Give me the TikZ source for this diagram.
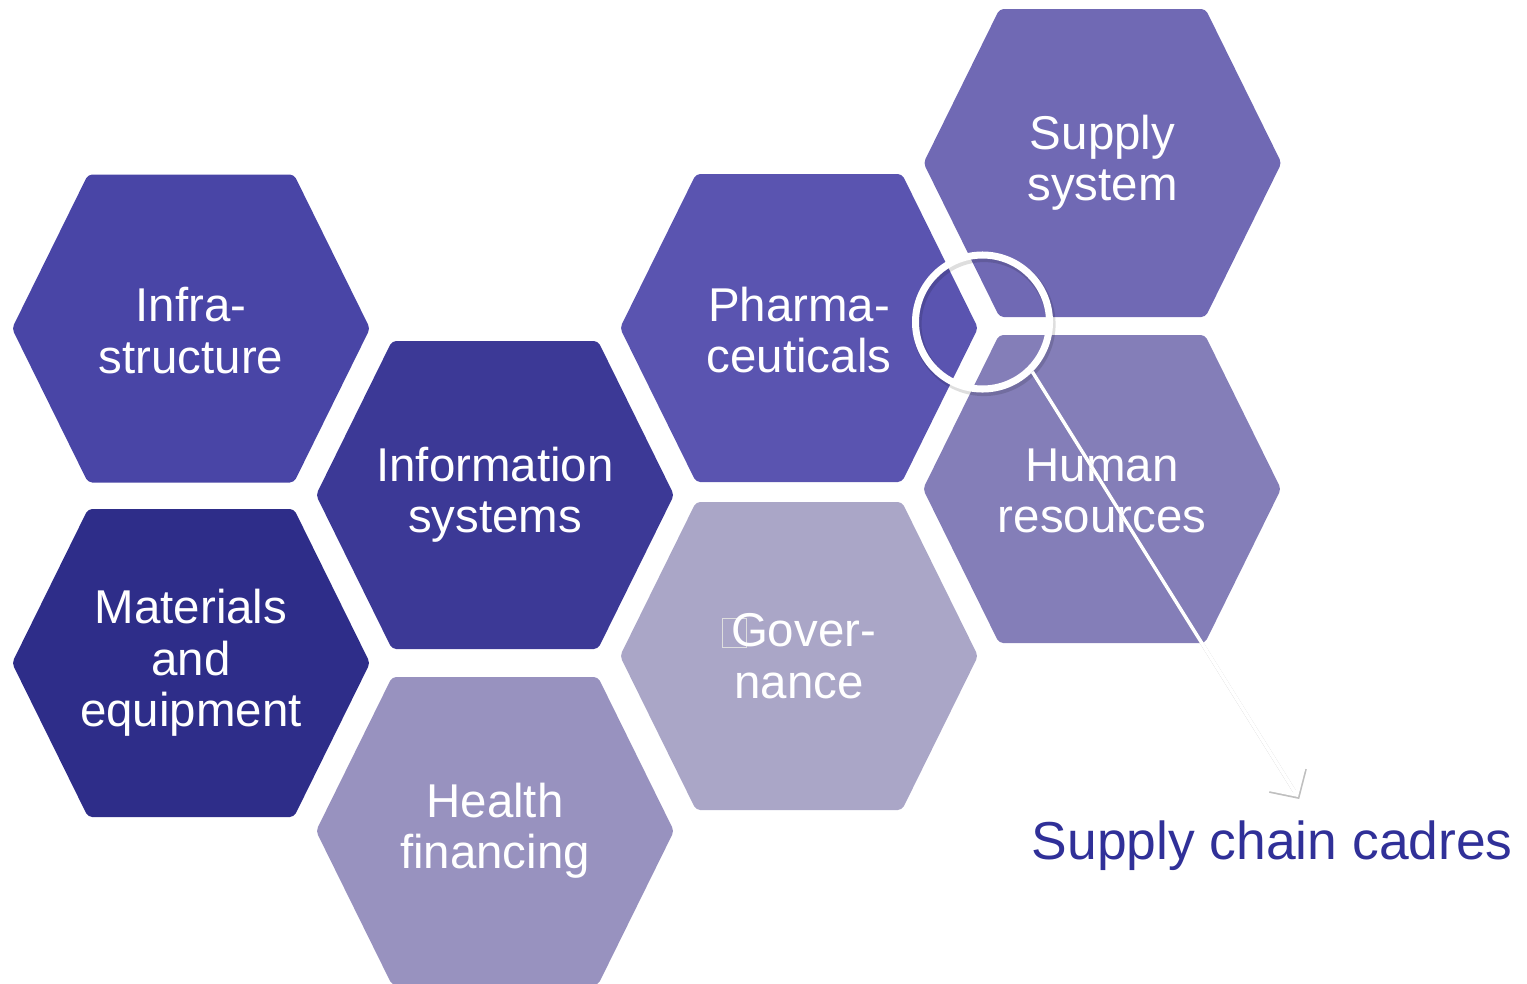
\documentclass[tikz,border=0pt]{standalone}
\usepackage{fontspec}
\setmainfont{Liberation Sans}
\usetikzlibrary{calc,arrows.meta}

\definecolor{infracol}{RGB}{73,69,166}
\definecolor{matcol}{RGB}{46,45,137}
\definecolor{infocol}{RGB}{60,57,150}
\definecolor{healthcol}{RGB}{152,146,191}
\definecolor{pharmacol}{RGB}{90,84,176}
\definecolor{govcol}{RGB}{170,166,199}
\definecolor{supplycol}{RGB}{112,105,180}
\definecolor{humancol}{RGB}{132,126,184}
\definecolor{cadrecol}{RGB}{48,48,152}

% glyph manquant devant "Gover-"
\newcommand{\tofu}{\makebox[0.09cm][l]{\color{black!13}\setlength{\fboxsep}{0pt}\setlength{\fboxrule}{0.3pt}\fbox{\rule{0pt}{0.28cm}\hspace{0.23cm}}}}

\begin{document}
\begin{tikzpicture}[
    hexa/.style={fill=#1, rounded corners=1.2pt},
    hexlabel/.style={text=white, align=center, font=\fontsize{13.5}{14.6}\selectfont},
    lens/.style={circle, draw=white, line width=2pt, minimum size=1.34cm, inner sep=0pt},
    pointer/.style={white, line width=1pt, -{Straight Barb[length=0.2cm, width=0.42cm]}}
  ]
          \useasboundingbox (0,0) rectangle (15.27,9.83);
          %\draw[help lines] (0,0) grid (15,9);
          % centres des hexagones
          \coordinate (infra) at (1.91,6.545);
          \coordinate (mat) at (1.91,3.20);
          \coordinate (info) at (4.95,4.88);
          \coordinate (health) at (4.95,1.52);
          \coordinate (pharma) at (7.99,6.55);
          \coordinate (gov) at (7.99,3.27);
          \coordinate (supply) at (11.025,8.20);
          \coordinate (human) at (11.02,4.94);
          \foreach \c/\col in {infra/infracol,mat/matcol,info/infocol,health/healthcol,
                               pharma/pharmacol,gov/govcol,supply/supplycol,human/humancol}
            \fill[hexa=\col] (\c) ++(-1.79,0) -- ++(0.76,1.54) -- ++(2.06,0)
                 -- ++(0.76,-1.54) -- ++(-0.76,-1.54) -- ++(-2.06,0) -- cycle;
          \node[hexlabel] (infra-t) at ([yshift=-0.02cm]infra) {Infra-\\structure};
          \node[hexlabel] (mat-t) at (mat) {Materials\\and\\equipment};
          \node[hexlabel] (info-t) at (info) {Information\\systems};
          \node[hexlabel] (health-t) at (health) {Health\\financing};
          \node[hexlabel] (pharma-t) at ([yshift=-0.02cm]pharma) {Pharma-\\ceuticals};
          \node[hexlabel] (gov-t) at (gov) {\tofu Gover-\\nance};
          \node[hexlabel] (supply-t) at (supply) {Supply\\system};
          \node[hexlabel] (human-t) at ([yshift=-0.02cm]human) {Human\\resources};
          % loupe
          \coordinate (loupe) at (9.825,6.61);
          \draw[black, opacity=0.13, line width=2.6pt] ([shift={(0.015,-0.025)}]loupe) circle (0.67);
          \node[lens] (lens) at (loupe) {};
          \coordinate (tip) at (12.98,1.86);
          \draw[pointer, draw=black, opacity=0.25, transform canvas={shift={(0.012,-0.02)}}] (lens.-45) -- (tip);
          \draw[pointer] (lens.-45) -- (tip);
          \node[anchor=base west, inner sep=0pt, text=cadrecol, font=\fontsize{15.2}{18}\selectfont] (cadres) at (10.31,1.24) {Supply chain cadres};
\end{tikzpicture}
\end{document}
